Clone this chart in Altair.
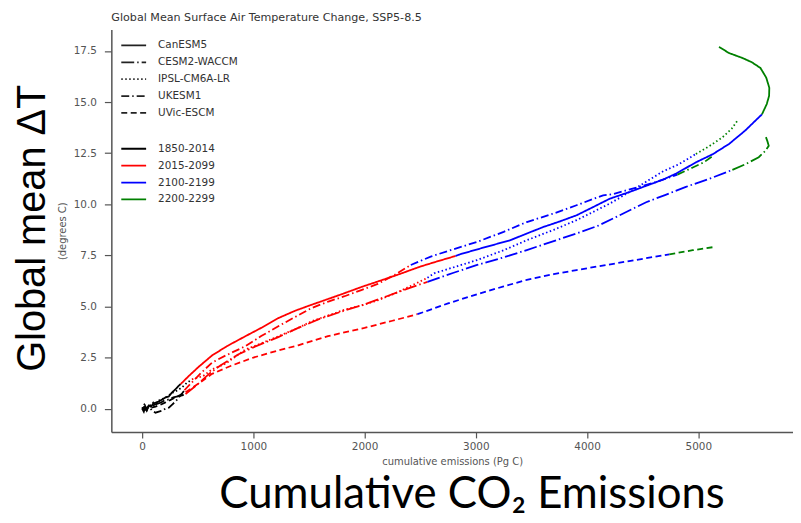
import altair as alt
import pandas as pd

# ---------------- categories / styles ----------------
MODELS = ["CanESM5", "CESM2-WACCM", "IPSL-CM6A-LR", "UKESM1", "UVic-ESCM"]
MODEL_DASHES = [[1, 0], [13, 3, 1.5, 3], [1.5, 2.5], [8, 3, 1.5, 3], [6, 3.5]]
PERIODS = ["1850-2014", "2015-2099", "2100-2199", "2200-2299"]
PERIOD_COLORS = ["#000000", "#ff0000", "#0000ff", "#008000"]

X_TICKS = [0, 1000, 2000, 3000, 4000, 5000]
Y_TICKS = [0.0, 2.5, 5.0, 7.5, 10.0, 12.5, 15.0, 17.5]

TITLE = "Global Mean Surface Air Temperature Change, SSP5-8.5"
X_TITLE = "cumulative emissions (Pg C)"
Y_TITLE = "(degrees C)"
BIG_Y_TEXT = ["Global mean \u0394T"]
BIG_X_TEXT = ["Cumulative CO\u2082 Emissions"]

# ---------------- series (cumulative emissions Pg C, temperature change C) ----------------
# CanESM5 (solid)
CANESM5_X_1850 = [0, 15, 30, 45, 60, 80, 100, 125, 150, 180, 210, 240, 270, 300, 325, 346]
CANESM5_Y_1850 = [0.0, -0.15, 0.1, -0.05, 0.15, 0.1, 0.25, 0.3, 0.35, 0.45, 0.55, 0.6, 0.8, 0.95, 1.1, 1.2]
CANESM5_X_2015 = [346, 420, 509, 628, 760, 927, 1070, 1224, 1380, 1522, 1680, 1820, 1970, 2118, 2297, 2500, 2650, 2818]
CANESM5_Y_2015 = [1.2, 1.6, 2.05, 2.6, 3.05, 3.54, 3.95, 4.43, 4.8, 5.08, 5.38, 5.65, 5.95, 6.22, 6.55, 6.95, 7.2, 7.47]
CANESM5_X_2100 = [2818, 2863, 3050, 3309, 3450, 3608, 3750, 3905, 4050, 4203, 4382, 4530, 4680, 4800, 4978, 5130, 5276, 5420, 5572]
CANESM5_Y_2100 = [7.47, 7.56, 7.85, 8.24, 8.55, 8.89, 9.15, 9.46, 9.85, 10.27, 10.6, 10.9, 11.2, 11.5, 12.05, 12.45, 12.95, 13.6, 14.4]
CANESM5_X_2200 = [5572, 5615, 5636, 5638, 5610, 5558, 5480, 5395, 5275, 5186]
CANESM5_Y_2200 = [14.4, 14.9, 15.3, 15.7, 16.2, 16.67, 16.95, 17.16, 17.4, 17.7]

# CESM2-WACCM (long dash - dot)
CESM2_X_1850 = [0, 20, 40, 60, 85, 110, 140, 170, 200, 240, 280, 320, 360, 390]
CESM2_Y_1850 = [0.0, 0.1, -0.1, 0.2, 0.05, 0.2, 0.25, 0.3, 0.4, 0.45, 0.55, 0.6, 0.65, 0.71]
CESM2_X_2015 = [390, 500, 599, 700, 867, 1000, 1224, 1403, 1600, 1820, 1999, 2200, 2400, 2565]
CESM2_Y_2015 = [0.71, 1.2, 1.69, 2.1, 2.66, 3.0, 3.5, 3.95, 4.4, 4.8, 5.1, 5.5, 5.9, 6.2]
CESM2_X_2100 = [2565, 2800, 3012, 3250, 3458, 3700, 3905, 4100, 4263, 4400, 4531, 4700, 4888, 5100, 5306]
CESM2_Y_2100 = [6.2, 6.65, 7.03, 7.4, 7.76, 8.2, 8.57, 8.95, 9.38, 9.75, 10.1, 10.45, 10.85, 11.25, 11.68]
CESM2_X_2200 = [5306, 5420, 5543, 5600, 5633, 5620, 5603]
CESM2_Y_2200 = [11.68, 11.95, 12.3, 12.6, 12.86, 13.1, 13.35]

# IPSL-CM6A-LR (dotted)
IPSL_X_1850 = [0, 20, 45, 70, 100, 130, 160, 200, 240, 280, 320, 360, 400, 447]
IPSL_Y_1850 = [0.0, 0.2, 0.05, 0.15, 0.3, 0.25, 0.45, 0.5, 0.65, 0.8, 0.9, 1.05, 1.25, 1.43]
IPSL_X_2015 = [447, 550, 628, 750, 927, 1050, 1224, 1403, 1522, 1820, 1999, 2118, 2300, 2565]
IPSL_Y_2015 = [1.43, 1.6, 1.92, 2.2, 2.89, 3.15, 3.54, 3.95, 4.27, 4.84, 5.09, 5.3, 5.7, 6.4]
IPSL_X_2100 = [2565, 2624, 3012, 3250, 3458, 3700, 3905, 4203, 4382, 4530, 4680, 4829, 4978]
IPSL_Y_2100 = [6.4, 6.62, 7.27, 7.75, 8.24, 8.75, 9.22, 10.03, 10.6, 11.1, 11.6, 11.97, 12.46]
IPSL_X_2200 = [4978, 5100, 5216, 5300, 5350]
IPSL_Y_2200 = [12.46, 12.85, 13.27, 13.7, 14.08]

# UKESM1 (dash - dot)
UKESM1_X_1850 = [0, 30, 60, 90, 120, 150, 180, 210, 240, 270, 300, 330, 360, 380]
UKESM1_Y_1850 = [0.0, -0.05, 0.1, -0.1, -0.2, -0.15, -0.1, 0.0, 0.05, 0.2, 0.35, 0.55, 0.75, 0.9]
UKESM1_X_2015 = [380, 450, 530, 628, 750, 927, 1070, 1224, 1380, 1522, 1680, 1820, 1970, 2118, 2270, 2415]
UKESM1_Y_2015 = [0.9, 1.3, 1.75, 2.25, 2.6, 3.05, 3.55, 4.03, 4.5, 4.92, 5.25, 5.5, 5.8, 6.1, 6.55, 7.03]
UKESM1_X_2100 = [2415, 2600, 2800, 3012, 3250, 3458, 3700, 3905, 4050, 4144, 4233, 4400, 4600, 4812]
UKESM1_Y_2100 = [7.03, 7.45, 7.8, 8.16, 8.65, 9.13, 9.55, 9.95, 10.25, 10.43, 10.5, 10.75, 11.05, 11.45]
UKESM1_X_2200 = [4812, 4950, 5050, 5126]
UKESM1_Y_2200 = [11.45, 11.8, 12.05, 12.35]

# UVic-ESCM (short dash)
UVIC_X_1850 = [0, 40, 80, 120, 160, 200, 240, 280, 320, 360, 390]
UVIC_Y_1850 = [0.0, 0.02, 0.05, 0.1, 0.18, 0.28, 0.38, 0.5, 0.6, 0.72, 0.8]
UVIC_X_2015 = [390, 500, 628, 800, 1000, 1224, 1403, 1671, 1999, 2250, 2475]
UVIC_Y_2015 = [0.8, 1.2, 1.7, 2.1, 2.5, 2.85, 3.1, 3.55, 3.95, 4.3, 4.62]
UVIC_X_2100 = [2475, 2750, 3012, 3250, 3458, 3700, 3905, 4263, 4531, 4739]
UVIC_Y_2100 = [4.62, 5.15, 5.6, 5.98, 6.3, 6.58, 6.78, 7.11, 7.36, 7.55]
UVIC_X_2200 = [4739, 4950, 5156]
UVIC_Y_2200 = [7.55, 7.75, 7.92]

SERIES = [
    ("CanESM5", "1850-2014", CANESM5_X_1850, CANESM5_Y_1850),
    ("CanESM5", "2015-2099", CANESM5_X_2015, CANESM5_Y_2015),
    ("CanESM5", "2100-2199", CANESM5_X_2100, CANESM5_Y_2100),
    ("CanESM5", "2200-2299", CANESM5_X_2200, CANESM5_Y_2200),
    ("CESM2-WACCM", "1850-2014", CESM2_X_1850, CESM2_Y_1850),
    ("CESM2-WACCM", "2015-2099", CESM2_X_2015, CESM2_Y_2015),
    ("CESM2-WACCM", "2100-2199", CESM2_X_2100, CESM2_Y_2100),
    ("CESM2-WACCM", "2200-2299", CESM2_X_2200, CESM2_Y_2200),
    ("IPSL-CM6A-LR", "1850-2014", IPSL_X_1850, IPSL_Y_1850),
    ("IPSL-CM6A-LR", "2015-2099", IPSL_X_2015, IPSL_Y_2015),
    ("IPSL-CM6A-LR", "2100-2199", IPSL_X_2100, IPSL_Y_2100),
    ("IPSL-CM6A-LR", "2200-2299", IPSL_X_2200, IPSL_Y_2200),
    ("UKESM1", "1850-2014", UKESM1_X_1850, UKESM1_Y_1850),
    ("UKESM1", "2015-2099", UKESM1_X_2015, UKESM1_Y_2015),
    ("UKESM1", "2100-2199", UKESM1_X_2100, UKESM1_Y_2100),
    ("UKESM1", "2200-2299", UKESM1_X_2200, UKESM1_Y_2200),
    ("UVic-ESCM", "1850-2014", UVIC_X_1850, UVIC_Y_1850),
    ("UVic-ESCM", "2015-2099", UVIC_X_2015, UVIC_Y_2015),
    ("UVic-ESCM", "2100-2199", UVIC_X_2100, UVIC_Y_2100),
    ("UVic-ESCM", "2200-2299", UVIC_X_2200, UVIC_Y_2200),
]

rows = []
for model, period, xs, ys in SERIES:
    for i, (xv, yv) in enumerate(zip(xs, ys)):
        rows.append({"model": model, "period": period, "seg": model + "|" + period,
                     "i": i, "x": xv, "y": yv})
df = pd.DataFrame(rows)

FONT = "DejaVu Sans"

lines = alt.Chart(df).mark_line(strokeWidth=1.8, clip=True).encode(
    x=alt.X("x:Q",
            scale=alt.Scale(domain=[-277, 5851], nice=False, zero=False),
            axis=alt.Axis(values=X_TICKS, format="d", title=X_TITLE, labelFlush=False,
                          tickSize=6, labelPadding=4, titlePadding=4)),
    y=alt.Y("y:Q",
            scale=alt.Scale(domain=[-1.14, 18.55], nice=False, zero=False),
            axis=alt.Axis(values=Y_TICKS, format=".1f", title=Y_TITLE, labelFlush=False,
                          tickSize=7, labelPadding=8, titlePadding=6)),
    color=alt.Color("period:N",
                    scale=alt.Scale(domain=PERIODS, range=PERIOD_COLORS),
                    legend=alt.Legend(orient="none", legendX=9, legendY=111.5, title=None,
                                      symbolType="stroke", symbolSize=625, symbolStrokeWidth=1.8,
                                      labelFont=FONT, labelFontSize=10.5, labelColor="#333",
                                      labelOffset=11, rowPadding=0, clipHeight=17, padding=0)),
    strokeDash=alt.StrokeDash("model:N",
                              scale=alt.Scale(domain=MODELS, range=MODEL_DASHES),
                              legend=alt.Legend(orient="none", legendX=9, legendY=7.5, title=None,
                                                symbolType="stroke", symbolSize=625,
                                                symbolStrokeWidth=1.8, symbolStrokeColor="#222",
                                                labelFont=FONT, labelFontSize=10.5, labelColor="#333",
                                                labelOffset=11, rowPadding=0, clipHeight=17, padding=0)),
    detail="seg:N",
    order="i:Q",
)

ytext = alt.Chart(pd.DataFrame({"t": BIG_Y_TEXT})).mark_text(
    angle=270, font="Liberation Sans", fontSize=40, baseline="alphabetic", align="center",
    color="#000000"
).encode(text="t:N", x=alt.value(-67), y=alt.value(200))

xtext = alt.Chart(pd.DataFrame({"t": BIG_X_TEXT})).mark_text(
    font="Lato", fontSize=44, baseline="alphabetic", align="center", color="#000000"
).encode(text="t:N", x=alt.value(363), y=alt.value(482))

chart = alt.layer(lines, ytext, xtext).properties(
    width=686,
    height=405,
    title=alt.TitleParams(TITLE, anchor="start", frame="group", font=FONT, fontSize=11.2,
                          fontWeight="normal", color="#333", offset=6),
    autosize=alt.AutoSizeParams(type="none"),
    padding={"left": 104, "top": 20, "right": 0, "bottom": 89},
).configure_view(stroke=None).configure_axis(
    grid=False,
    domainColor="#555",
    domainWidth=1.5,
    tickColor="#555",
    tickWidth=1.2,
    labelFont=FONT,
    labelFontSize=10.5,
    labelColor="#555",
    titleFont=FONT,
    titleFontSize=10,
    titleFontWeight="normal",
    titleColor="#555",
)

chart.save("out.html", embed_options={"renderer": "svg", "actions": False})
